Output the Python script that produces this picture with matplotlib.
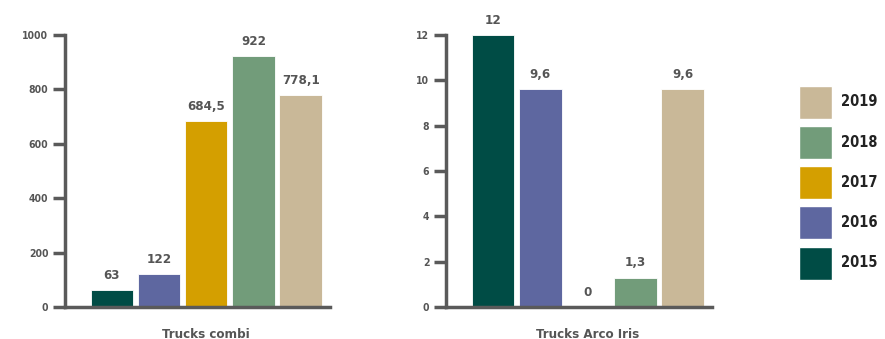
import matplotlib
matplotlib.use("Agg")
import matplotlib.pyplot as plt
from matplotlib.patches import Patch

years = ["2015", "2016", "2017", "2018", "2019"]
colors = ["#004c45", "#5e67a0", "#d49f00", "#729c7a", "#c9b898"]

combi_values = [63, 122, 684.5, 922, 778.1]
combi_labels = ["63", "122", "684,5", "922", "778,1"]
combi_ticks = [0, 200, 400, 600, 800, 1000]

arco_values = [12, 9.6, 0, 1.3, 9.6]
arco_labels = ["12", "9,6", "0", "1,3", "9,6"]
arco_ticks = [0, 2, 4, 6, 8, 10, 12]

spine_col = "#5a5a5a"
text_col = "#555555"
font = dict(family="DejaVu Sans", fontweight="bold", fontstretch="condensed")

W, H = 885, 339
fig = plt.figure(figsize=(W / 100, H / 100), dpi=100)


def panel(left_px, right_px, values, labels, ticks, title, ymax):
    ax = fig.add_axes([left_px / W, 1 - 307 / H, (right_px - left_px) / W, 272 / H])
    x = range(len(values))
    ax.bar(x, values, width=0.9, color=colors, edgecolor="white", linewidth=0.6)
    for xi, v, lab in zip(x, values, labels):
        ax.text(xi, v + ymax * 0.03, lab, ha="center", va="bottom",
                fontsize=9.5, color=text_col, **font)
    ax.set_ylim(0, ymax)
    ax.set_xlim(-0.99, 4.62)
    ax.set_yticks(ticks)
    ax.set_yticklabels([str(t) for t in ticks], fontsize=7.5, color=text_col, **font)
    ax.set_xticks([])
    for s in ("top", "right"):
        ax.spines[s].set_visible(False)
    for s in ("left", "bottom"):
        ax.spines[s].set_color(spine_col)
        ax.spines[s].set_linewidth(2.5)
    ax.tick_params(axis="y", length=9, width=2.5, color=spine_col, pad=3)
    ax.text(2, -ymax * 0.1, title, ha="center", va="center", fontsize=9.5,
            color=text_col, transform=ax.transData, **font)
    return ax


panel(65, 330, combi_values, combi_labels, combi_ticks, "Trucks combi", 1000)
panel(446, 712, arco_values, arco_labels, arco_ticks, "Trucks Arco Iris", 12)

handles = [Patch(facecolor=c, edgecolor="white") for c in colors][::-1]
leg = fig.legend(handles, years[::-1], loc="upper left",
                 bbox_to_anchor=(787 / W, 1 - 74 / H), frameon=False,
                 handlelength=2.3, handleheight=3.1, labelspacing=0.5,
                 handletextpad=0.6, borderpad=0.3,
                 prop=dict(size=10.5, weight="bold", family="DejaVu Sans",
                           stretch="condensed"))
for t in leg.get_texts():
    t.set_color("#222222")

fig.savefig("out.png", dpi=100)
